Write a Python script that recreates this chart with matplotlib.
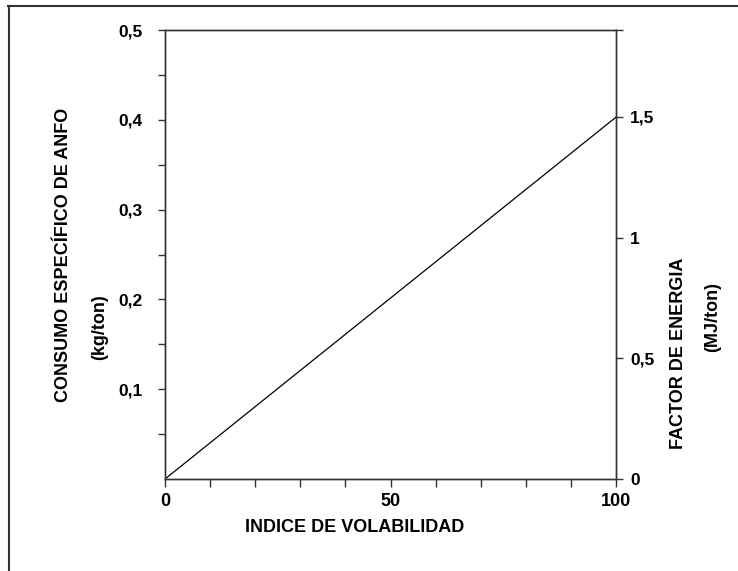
import matplotlib.pyplot as plt
from matplotlib.lines import Line2D
from matplotlib.ticker import FixedLocator, FixedFormatter

plt.rcParams['font.family'] = ['Liberation Sans', 'DejaVu Sans']
plt.rcParams['font.weight'] = 'bold'

# Indice de volabilidad vs consumo especifico de ANFO
volabilidad = [0, 100]
consumo_anfo = [0, 0.403]   # kg/ton
energia_anfo = 3.72         # MJ/kg, for the right hand scale

left_ticks = [0.05, 0.1, 0.15, 0.2, 0.25, 0.3, 0.35, 0.4, 0.45, 0.5]
left_labels = ['', '0,1', '', '0,2', '', '0,3', '', '0,4', '', '0,5']
right_ticks = [0, 0.5, 1, 1.5]
right_labels = ['0', '0,5', '1', '1,5']
x_ticks = [0, 10, 20, 30, 40, 50, 60, 70, 80, 90, 100]
x_labels = ['0', '', '', '', '', '50', '', '', '', '', '100']

fig = plt.figure(figsize=(7.38, 5.71), dpi=100)
ax = fig.add_axes([0.2236, 0.1611, 0.6111, 0.7863])

ax.plot(volabilidad, consumo_anfo, color='black', lw=0.9)
ax.set_xlim(0, 100)
ax.set_ylim(0, 0.5)

ax.xaxis.set_major_locator(FixedLocator(x_ticks))
ax.xaxis.set_major_formatter(FixedFormatter(x_labels))
ax.yaxis.set_major_locator(FixedLocator(left_ticks))
ax.yaxis.set_major_formatter(FixedFormatter(left_labels))
ax.tick_params(axis='x', direction='out', length=6, width=1, color='#333333',
               labelsize=13, pad=4)
ax.tick_params(axis='y', direction='out', length=5, width=1, color='#333333',
               labelsize=12.5, pad=11)

ax2 = ax.twinx()
ax2.set_ylim(0, 0.5 * energia_anfo)
top_right = 0.5 * energia_anfo
ax2.yaxis.set_major_locator(FixedLocator(right_ticks + [top_right]))
ax2.yaxis.set_major_formatter(FixedFormatter(right_labels + ['']))
ax2.tick_params(axis='y', direction='out', length=5, width=1, color='#333333',
                labelsize=12.5, pad=5)

for a in (ax, ax2):
    for s in a.spines.values():
        s.set_color('#333333')
        s.set_linewidth(1)

# axis titles
fig.text(0.4806, 0.077, 'INDICE DE VOLABILIDAD', ha='center', va='center',
         fontsize=13, fontweight='bold')
fig.text(0.0867, 0.553, 'CONSUMO ESPECÍFICO DE ANFO', ha='center', va='center',
         rotation=90, fontsize=13, fontweight='bold')
fig.text(0.1355, 0.427, '(kg/ton)', ha='center', va='center',
         rotation=90, fontsize=13, fontweight='bold')
fig.text(0.920, 0.382, 'FACTOR DE ENERGIA', ha='center', va='center',
         rotation=90, fontsize=13, fontweight='bold')
fig.text(0.966, 0.445, '(MJ/ton)', ha='center', va='center',
         rotation=90, fontsize=13, fontweight='bold')

# frame around the figure
fig.add_artist(Line2D([8 / 738, 1], [1 - 6 / 571, 1 - 6 / 571],
                      transform=fig.transFigure, color='#333333', lw=1.5))
fig.add_artist(Line2D([9 / 738, 9 / 738], [0, 1 - 6 / 571],
                      transform=fig.transFigure, color='#333333', lw=1.5))

fig.savefig('out.png', dpi=100)
